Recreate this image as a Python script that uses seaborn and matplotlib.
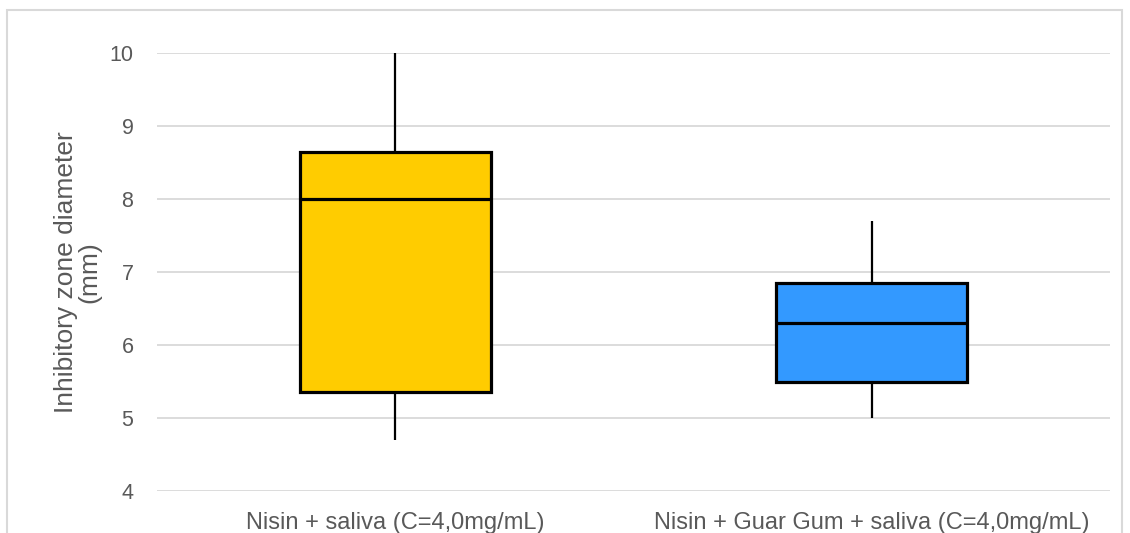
import pandas as pd
import seaborn as sns
import matplotlib.pyplot as plt
from matplotlib.patches import Rectangle

# five-number summaries (min, Q1, median, Q3, max)
groups = ['Nisin + saliva (C=4,0mg/mL)', 'Nisin + Guar Gum + saliva (C=4,0mg/mL)']
nisin_saliva = [4.7, 5.35, 8.0, 8.65, 10.0]
nisin_guar_saliva = [5.0, 5.5, 6.3, 6.85, 7.7]
colors = ['#FFCC00', '#3399FF']
y_ticks = [4, 5, 6, 7, 8, 9, 10]

df = pd.DataFrame({
    'group': [groups[0]] * len(nisin_saliva) + [groups[1]] * len(nisin_guar_saliva),
    'value': nisin_saliva + nisin_guar_saliva,
})

sns.set_style('white')
plt.rcParams['font.family'] = ['Liberation Sans', 'DejaVu Sans']

fig = plt.figure(figsize=(11.3, 5.33), dpi=100)
ax = fig.add_axes([157 / 1130, 1 - 491 / 533, (1110 - 157) / 1130, (491 - 53) / 533])

# light gray chart border
fig.patches.append(Rectangle((7 / 1130, -0.05), 1115 / 1130, 1.05 - 10 / 533,
                             transform=fig.transFigure, fill=False,
                             edgecolor='#d9d9d9', linewidth=1.5, zorder=0))

sns.boxplot(data=df, x='group', y='value', hue='group', palette=colors,
            order=groups, hue_order=groups, legend=False, saturation=1,
            whis=(0, 100), width=0.4, showcaps=False, fliersize=0,
            boxprops={'edgecolor': 'black', 'linewidth': 2.3},
            medianprops={'color': 'black', 'linewidth': 2.3},
            whiskerprops={'color': 'black', 'linewidth': 1.6},
            ax=ax)

ax.set_ylim(4, 10)
ax.set_yticks(y_ticks)
ax.yaxis.grid(True, color='#d9d9d9', linewidth=1.3)
ax.set_axisbelow(True)
for s in ax.spines.values():
    s.set_visible(False)
ax.tick_params(axis='both', length=0, labelcolor='#595959')
ax.tick_params(axis='y', pad=17, labelsize=15.5)
ax.tick_params(axis='x', pad=15, labelsize=17)
ax.set_xlabel('')
ax.set_ylabel('Inhibitory zone diameter\n(mm)', fontsize=19, color='#595959',
              linespacing=1.0)
ax.yaxis.set_label_coords(-0.058, 0.5)

plt.savefig('out.png', dpi=100)
